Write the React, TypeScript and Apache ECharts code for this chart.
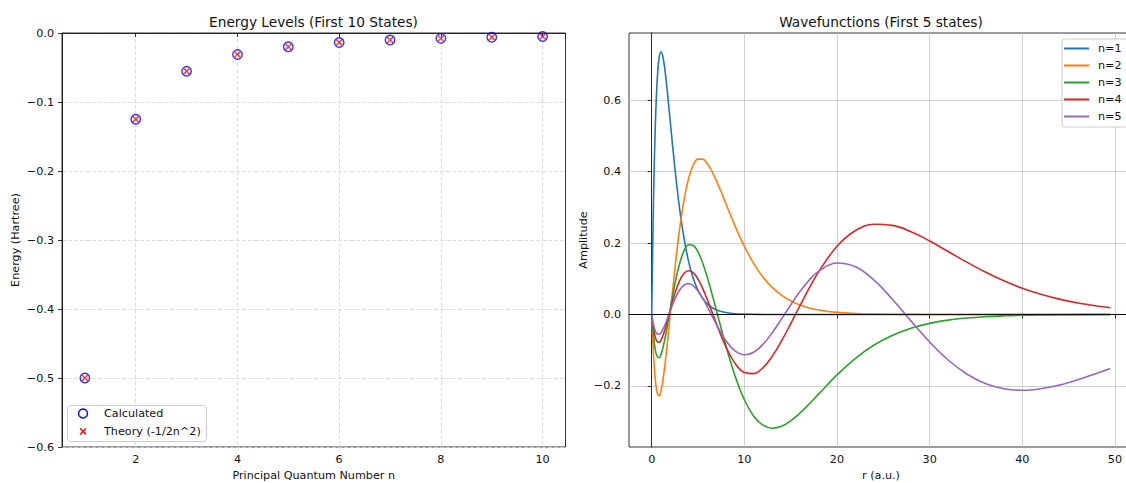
import React, { useEffect, useRef } from 'react';
import * as echarts from 'echarts';

// ---------- Data ----------
const quantumNumbers = [1, 2, 3, 4, 5, 6, 7, 8, 9, 10];
const energyCalculated = [-0.5, -0.125, -0.0556, -0.0313, -0.02, -0.0139, -0.0102, -0.0078, -0.0062, -0.005];
const energyTheory = [-0.5, -0.125, -0.05556, -0.03125, -0.02, -0.01389, -0.0102, -0.00781, -0.00617, -0.005];

const rValues = [
  0, 0.2, 0.4, 0.6, 0.8, 1.0, 1.2, 1.4, 1.6, 1.8, 2.0,
  2.5, 3.0, 3.5, 4.0, 4.5, 5.0, 5.5, 6.0, 6.5, 7.0, 7.5, 8.0,
  9, 10, 11, 12, 13, 14, 15, 16, 17, 18,
  20, 22, 24, 26, 28, 30, 32, 34, 36, 38, 40, 42, 44, 46, 48, 49.5,
];
const psiN1 = [
  0, 0.3275, 0.5363, 0.6586, 0.7189, 0.7358, 0.7229, 0.6905, 0.6461, 0.5951, 0.5413,
  0.4104, 0.2987, 0.2114, 0.1465, 0.1, 0.0674, 0.045, 0.0297, 0.0195, 0.0128, 0.0083, 0.0054,
  0.0022, 0.0009, 0.0004, 0.0001, 0, 0, 0, 0, 0, 0,
  0, 0, 0, 0, 0, 0, 0, 0, 0, 0, 0, 0, 0, 0, 0, 0,
];
const psiN2 = [
  0, -0.1152, -0.1853, -0.22, -0.2275, -0.2144, -0.1863, -0.1475, -0.1017, -0.0517, 0,
  0.1266, 0.2367, 0.3226, 0.3828, 0.4192, 0.4353, 0.4351, 0.4225, 0.401, 0.3737, 0.343, 0.3108,
  0.2474, 0.1906, 0.1431, 0.1052, 0.076, 0.0542, 0.0381, 0.0266, 0.0183, 0.0126,
  0.0058, 0.0026, 0.0011, 0.0005, 0.0002, 0, 0, 0, 0, 0, 0, 0, 0, 0, 0, 0,
];
const psiN3 = [
  0, -0.0626, -0.1004, -0.1185, -0.1212, -0.1124, -0.0949, -0.0716, -0.0444, -0.0152, 0.0146,
  0.0852, 0.1416, 0.1787, 0.1954, 0.1932, 0.175, 0.1442, 0.1042, 0.0584, 0.0097, -0.0395, -0.0872,
  -0.1725, -0.239, -0.2846, -0.3102, -0.3186, -0.3134, -0.2982, -0.2764, -0.2507, -0.2233,
  -0.1694, -0.1227, -0.0857, -0.0582, -0.0385, -0.025, -0.0159, -0.01, -0.0062, -0.0038, -0.0023,
  -0.0014, -0.0008, -0.0005, -0.0003, -0.0002,
];
const psiN4 = [
  0, -0.0407, -0.0651, -0.0767, -0.0782, -0.072, -0.0602, -0.0446, -0.0265, -0.0071, 0.0126,
  0.0586, 0.0941, 0.1156, 0.1226, 0.1163, 0.0989, 0.0731, 0.0418, 0.0077, -0.0269, -0.0601, -0.0902,
  -0.1371, -0.1625, -0.1657, -0.1494, -0.1175, -0.0749, -0.0262, 0.0244, 0.0736, 0.1187,
  0.1909, 0.2351, 0.2528, 0.2496, 0.2319, 0.2058, 0.1762, 0.1465, 0.1188, 0.0944, 0.0737,
  0.0566, 0.0429, 0.0321, 0.0238, 0.0189,
];
const psiN5 = [
  0, -0.0291, -0.0466, -0.0548, -0.0557, -0.0512, -0.0426, -0.0313, -0.0181, -0.0041, 0.0101,
  0.0429, 0.068, 0.0825, 0.0862, 0.08, 0.0658, 0.0457, 0.0218, -0.0036, -0.0289, -0.0524, -0.0729,
  -0.1021, -0.113, -0.106, -0.0841, -0.0515, -0.0131, 0.0267, 0.0641, 0.0962, 0.1208,
  0.1442, 0.1335, 0.096, 0.0418, -0.0187, -0.0772, -0.1276, -0.1667, -0.1933, -0.2081, -0.2124,
  -0.2081, -0.1976, -0.1827, -0.1652, -0.1513,
];

const energyNames = ['Calculated', 'Theory (-1/2n^2)'];
const waveNames = ['n=1', 'n=2', 'n=3', 'n=4', 'n=5'];
const waveColors = ['#1f77b4', '#ff7f0e', '#2ca02c', '#d62728', '#9467bd'];
const waveData = [psiN1, psiN2, psiN3, psiN4, psiN5];

const energyXTicks = [2, 4, 6, 8, 10];
const waveXTicks = [0, 10, 20, 30, 40, 50];
const waveYTicks = [-0.2, 0, 0.2, 0.4, 0.6];

const FONT = 'DejaVu Sans';
const X_MARK = 'path://M0,1.4L1.4,0L5,3.6L8.6,0L10,1.4L6.4,5L10,8.6L8.6,10L5,6.4L1.4,10L0,8.6L3.6,5Z';
// same X glyph, as polygon points centred on 0,0 (for the legend key)
const X_GLYPH = [
  [0, 1.4], [1.4, 0], [5, 3.6], [8.6, 0], [10, 1.4], [6.4, 5],
  [10, 8.6], [8.6, 10], [5, 6.4], [1.4, 10], [0, 8.6], [3.6, 5],
].map(([a, b]) => [(a - 5) * 0.7, (b - 5) * 0.7]);

const fmt1 = (v: number) => {
  const s = Math.abs(v).toFixed(1);
  return (v < -1e-9 ? '\u2212' : '') + s;
};

export default function App() {
  const ref = useRef<HTMLDivElement>(null);

  useEffect(() => {
    if (!ref.current) return;
    const chart = echarts.init(ref.current, undefined, { renderer: 'svg' });

    const labelStyle = { fontSize: 11.2, fontFamily: FONT, color: '#111' };
    const nameStyle = { fontSize: 11.2, fontFamily: FONT, color: '#111' };
    const axisLine = { show: true, lineStyle: { color: '#000', width: 0.8 } };
    const axisTickBase = { show: true, length: 4, inside: false, lineStyle: { color: '#000', width: 0.8 } };
    const dashedGrid = { show: true, lineStyle: { color: '#d6d6d6', width: 0.8, type: [4, 2] } };
    const solidGrid = { show: true, lineStyle: { color: '#c4c4c4', width: 0.8, type: 'solid' } };

    const legendText = (text: string, y: number) => ({
      type: 'text', x: 104, y, silent: true, z: 101,
      style: { text, align: 'left', verticalAlign: 'middle', fontSize: 11.2, fontFamily: FONT, fill: '#111' },
    });

    const option: any = {
      animation: false,
      backgroundColor: '#fff',
      textStyle: { fontFamily: FONT },
      graphic: [
        {
          type: 'text', x: 313.5, y: 21.5, silent: true,
          style: { text: 'Energy Levels (First 10 States)', align: 'center', verticalAlign: 'middle', fontSize: 13.7, fontFamily: FONT, fill: '#111' },
        },
        {
          type: 'text', x: 881, y: 21.5, silent: true,
          style: { text: 'Wavefunctions (First 5 states)', align: 'center', verticalAlign: 'middle', fontSize: 13.7, fontFamily: FONT, fill: '#111' },
        },
        // legend of the energy panel
        {
          type: 'rect', silent: true, z: 100,
          shape: { x: 67.5, y: 405.5, width: 139, height: 36, r: 3 },
          style: { fill: 'rgba(255,255,255,0.8)', stroke: '#cccccc', lineWidth: 1 },
        },
        {
          type: 'circle', silent: true, z: 101,
          shape: { cx: 83, cy: 413.5, r: 4.5 },
          style: { fill: 'none', stroke: 'blue', lineWidth: 1.4 },
        },
        {
          type: 'polygon', silent: true, z: 101, x: 83, y: 431.5,
          shape: { points: X_GLYPH },
          style: { fill: 'red' },
        },
        legendText(energyNames[0], 413.5),
        legendText(energyNames[1], 431.5),
      ],
      grid: [
        { left: 62, top: 33, width: 503.5, height: 414, show: true, borderColor: '#000', borderWidth: 0.8, containLabel: false, outerBoundsMode: 'none' },
        { left: 629, top: 33, width: 504, height: 414, show: true, borderColor: '#000', borderWidth: 0.8, containLabel: false, outerBoundsMode: 'none' },
      ],
      xAxis: [
        {
          type: 'value', gridIndex: 0, min: 0.55, max: 10.45, minInterval: 2, maxInterval: 2,
          name: 'Principal Quantum Number n', nameLocation: 'middle', nameGap: 22, nameTextStyle: nameStyle,
          axisLine, axisTick: { ...axisTickBase, customValues: energyXTicks },
          axisLabel: { ...labelStyle, margin: 7, customValues: energyXTicks, formatter: (v: number) => String(Math.round(v)) },
          splitLine: dashedGrid,
        },
        {
          type: 'value', gridIndex: 1, min: -2.45, max: 51.95, minInterval: 10, maxInterval: 10,
          name: 'r (a.u.)', nameLocation: 'middle', nameGap: 22, nameTextStyle: nameStyle,
          axisLine, axisTick: { ...axisTickBase, customValues: waveXTicks },
          axisLabel: { ...labelStyle, margin: 7, customValues: waveXTicks, formatter: (v: number) => String(Math.round(v)) },
          splitLine: solidGrid,
        },
      ],
      yAxis: [
        {
          type: 'value', gridIndex: 0, min: -0.6, max: 0, interval: 0.1,
          name: 'Energy (Hartree)', nameLocation: 'middle', nameGap: 41, nameTextStyle: nameStyle,
          axisLine, axisTick: axisTickBase,
          axisLabel: { ...labelStyle, margin: 8, formatter: fmt1 },
          splitLine: dashedGrid,
        },
        {
          type: 'value', gridIndex: 1, min: -0.3713, max: 0.7885, minInterval: 0.2, maxInterval: 0.2,
          name: 'Amplitude', nameLocation: 'middle', nameGap: 40, nameTextStyle: nameStyle,
          axisLine, axisTick: { ...axisTickBase, customValues: waveYTicks },
          axisLabel: { ...labelStyle, margin: 8, customValues: waveYTicks, formatter: fmt1 },
          splitLine: solidGrid,
        },
      ],
      legend: [
        {
          orient: 'vertical', left: 1062, top: 39,
          data: waveNames,
          icon: 'rect', itemWidth: 25, itemHeight: 2, itemGap: 4,
          padding: [3, 12, 4, 2],
          backgroundColor: 'rgba(255,255,255,0.8)', borderColor: '#cccccc', borderWidth: 1, borderRadius: 3,
          textStyle: { fontSize: 11.2, fontFamily: FONT, color: '#111', lineHeight: 13, padding: [0, 0, 0, 4] },
          selectedMode: false,
        },
      ],
      series: [
        {
          name: energyNames[0], type: 'scatter', xAxisIndex: 0, yAxisIndex: 0,
          symbol: 'circle', symbolSize: 9.5,
          itemStyle: { color: 'rgba(0,0,0,0)', borderColor: 'blue', borderWidth: 1.4 },
          data: quantumNumbers.map((n, i) => [n, energyCalculated[i]]),
          z: 3,
        },
        {
          name: energyNames[1], type: 'scatter', xAxisIndex: 0, yAxisIndex: 0,
          symbol: X_MARK, symbolSize: 7,
          itemStyle: { color: 'red' },
          data: quantumNumbers.map((n, i) => [n, energyTheory[i]]),
          z: 4,
        },
        ...waveData.map((vals, k) => ({
          name: waveNames[k], type: 'line', xAxisIndex: 1, yAxisIndex: 1,
          showSymbol: false, symbol: 'none', smooth: 0.4,
          lineStyle: { color: waveColors[k], width: 1.6 },
          itemStyle: { color: waveColors[k] },
          data: rValues.map((r, i) => [r, vals[i]]),
          z: 3,
          ...(k === 4
            ? {
                markLine: {
                  silent: true, symbol: ['none', 'none'], label: { show: false },
                  lineStyle: { color: '#000', width: 0.9, type: 'solid' },
                  data: [{ yAxis: 0 }],
                },
              }
            : {}),
        })),
      ],
    };

    chart.setOption(option);
    return () => chart.dispose();
  }, []);

  return (
    <div
      ref={ref}
      style={{ position: 'fixed', left: 0, top: 0, width: 1126, height: 483, background: '#fff' }}
    />
  );
}
